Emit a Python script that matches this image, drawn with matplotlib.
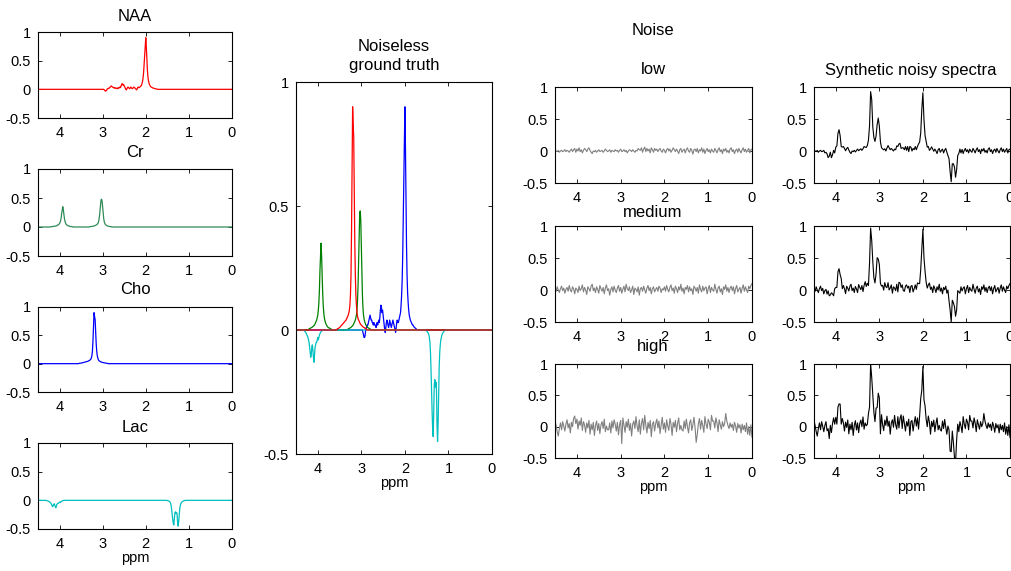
import numpy as np
import matplotlib
matplotlib.use("Agg")
import matplotlib.pyplot as plt

plt.rcParams['font.family'] = ['Liberation Sans', 'DejaVu Sans']
plt.rcParams['axes.unicode_minus'] = False

# ---------------- data ----------------
ppm_start, ppm_end = 4.5, 0.0
fine_step = 0.0125          # ground-truth sampling (ppm)
xtick_vals = [4, 3, 2, 1, 0]
ytick_vals = [-0.5, 0, 0.5, 1]
ytick_labels = ['-0.5', '0', '0.5', '1']

# metabolite segments: first ppm of segment + values at fine_step spacing (descending ppm)
naa_start = 2.975
naa_vals = [0.0, -0.01, -0.02, -0.03, -0.03, -0.02, 0.0, 0.01, 0.01, 0.02,
            0.02, 0.03, 0.04, 0.05, 0.06, 0.05, 0.04, 0.04, 0.03, 0.03,
            0.02, 0.03, 0.02, 0.02, 0.02, 0.01, 0.02, 0.03, 0.02, 0.03,
            0.04, 0.03, 0.05, 0.08, 0.10, 0.09, 0.07, 0.08, 0.06, 0.04,
            0.02, 0.00, -0.01, 0.01, 0.03, 0.04, 0.03, 0.02, 0.01, 0.02,
            0.04, 0.03, 0.02, 0.01, 0.02, 0.03, 0.04, 0.03, 0.02, 0.01,
            0.00, -0.01, 0.01, 0.03, 0.04, 0.03, 0.03, 0.04, 0.05, 0.06,
            0.07, 0.10, 0.14, 0.20, 0.30, 0.45, 0.62, 0.72, 0.90, 0.74,
            0.52, 0.34, 0.22, 0.15, 0.11, 0.08, 0.06, 0.05, 0.04, 0.035,
            0.03, 0.025, 0.02, 0.02, 0.015, 0.012, 0.01, 0.008, 0.006, 0.004]

cr_start1 = 4.2
cr_vals1 = [0.005, 0.006, 0.007, 0.008, 0.009, 0.010, 0.012, 0.014, 0.016, 0.018,
            0.020, 0.025, 0.030, 0.035, 0.040, 0.050, 0.060, 0.080, 0.110, 0.160,
            0.240, 0.300, 0.350, 0.300, 0.220, 0.150, 0.100, 0.070, 0.050, 0.040,
            0.030, 0.025, 0.020, 0.016, 0.013, 0.011, 0.009, 0.008, 0.007, 0.006, 0.005]
cr_start2 = 3.3
cr_vals2 = [0.005, 0.006, 0.007, 0.008, 0.009, 0.011, 0.013, 0.015, 0.018, 0.020,
            0.025, 0.030, 0.035, 0.040, 0.050, 0.060, 0.080, 0.120, 0.180, 0.280,
            0.400, 0.470, 0.480, 0.440, 0.340, 0.220, 0.140, 0.090, 0.060, 0.045,
            0.035, 0.028, 0.022, 0.018, 0.015, 0.012, 0.010, 0.008, 0.007, 0.006, 0.005]

cho_start = 3.55
cho_vals = [0.005, 0.006, 0.007, 0.008, 0.010, 0.012, 0.015, 0.018, 0.020, 0.022,
            0.025, 0.027, 0.030, 0.032, 0.035, 0.038, 0.040, 0.045, 0.050, 0.055,
            0.060, 0.070, 0.080, 0.100, 0.140, 0.220, 0.400, 0.660, 0.900, 0.830,
            0.780, 0.550, 0.350, 0.220, 0.140, 0.100, 0.070, 0.055, 0.045, 0.040,
            0.035, 0.030, 0.025, 0.022, 0.020, 0.017, 0.015, 0.013, 0.011, 0.010,
            0.008, 0.007, 0.006, 0.005]

lac_start1 = 4.3
lac_vals1 = [-0.005, -0.008, -0.010, -0.015, -0.020, -0.025, -0.030, -0.040, -0.050, -0.070,
             -0.090, -0.110, -0.100, -0.070, -0.060, -0.080, -0.110, -0.130, -0.100, -0.070,
             -0.060, -0.050, -0.050, -0.040, -0.030, -0.040, -0.030, -0.020, -0.015, -0.010,
             -0.007, -0.005]
lac_start2 = 1.5
lac_vals2 = [-0.005, -0.007, -0.010, -0.013, -0.020, -0.030, -0.050, -0.090, -0.160, -0.250,
             -0.330, -0.400, -0.430, -0.330, -0.220, -0.200, -0.230, -0.210, -0.240, -0.380,
             -0.450, -0.380, -0.260, -0.150, -0.090, -0.060, -0.040, -0.030, -0.020, -0.015,
             -0.010, -0.008, -0.005]

# noise realisations, sampled every 0.025 ppm from 4.5 to 0
noise_low = [0.02, 0.00, -0.01, 0.01, -0.02, 0.00, 0.01, -0.01, 0.00, 0.02,
             -0.01, 0.01, 0.00, -0.02, 0.01, 0.03, -0.01, 0.02, 0.04, -0.02,
             0.03, 0.00, 0.05, -0.01, 0.02, -0.03, 0.01, 0.04, 0.02, -0.01,
             0.03, 0.05, 0.01, -0.02, -0.04, 0.00, -0.01, 0.01, -0.02, 0.00,
             0.02, -0.01, 0.00, 0.01, -0.02, 0.00, 0.03, 0.01, -0.01, 0.00,
             0.02, -0.02, 0.01, 0.00, -0.01, 0.02, 0.00, 0.01, -0.02, 0.01,
             0.03, -0.01, 0.00, 0.02, -0.01, 0.01, -0.03, 0.00, 0.02, 0.01,
             -0.01, 0.02, 0.00, -0.02, 0.01, 0.00, 0.04, 0.02, 0.01, 0.05,
             -0.02, 0.03, 0.06, -0.01, 0.04, 0.00, 0.03, -0.03, 0.05, 0.02,
             -0.02, 0.04, 0.01, 0.03, -0.01, 0.02, 0.04, 0.00, -0.02, 0.03,
             0.01, -0.03, 0.02, 0.04, 0.00, 0.03, -0.02, 0.01, 0.05, 0.02,
             -0.01, 0.03, 0.00, -0.04, 0.02, 0.04, -0.02, 0.01, 0.03, -0.03,
             0.02, 0.05, 0.00, -0.02, 0.04, 0.01, -0.05, 0.02, 0.03, -0.01,
             0.04, -0.03, 0.02, 0.00, 0.05, -0.02, 0.03, -0.04, 0.01, 0.04,
             -0.01, 0.02, -0.03, 0.03, 0.00, -0.02, 0.04, 0.01, -0.03, 0.02,
             0.05, -0.01, 0.02, -0.04, 0.03, 0.00, 0.04, -0.02, 0.01, -0.03,
             0.03, 0.05, -0.01, 0.02, -0.04, 0.01, 0.03, -0.02, 0.04, 0.00,
             -0.03, 0.02, 0.05, -0.01, 0.03, -0.02, 0.01, 0.04, -0.03, 0.02,
             0.03]
noise_medium = [0.03, -0.02, 0.05, 0.00, -0.04, 0.02, 0.06, -0.01, 0.03, -0.05,
                0.01, 0.04, -0.02, 0.07, 0.00, -0.03, 0.05, 0.02, -0.06, 0.03,
                0.01, -0.04, 0.06, -0.01, 0.02, 0.08, -0.03, 0.04, 0.00, -0.07,
                0.05, 0.02, -0.02, 0.06, 0.09, -0.01, 0.03, -0.04, 0.05, 0.01,
                -0.05, 0.07, 0.02, -0.02, 0.04, -0.06, 0.03, 0.08, -0.01, 0.02,
                -0.08, 0.01, 0.05, -0.03, 0.06, 0.00, -0.04, 0.03, 0.07, -0.02,
                0.04, -0.05, 0.01, 0.06, -0.03, 0.09, 0.02, -0.01, 0.05, -0.04,
                0.00, 0.06, -0.07, 0.03, 0.01, -0.03, 0.05, -0.08, 0.02, 0.04,
                -0.02, 0.06, 0.00, -0.05, 0.03, 0.07, -0.01, 0.04, -0.06, 0.02,
                0.05, -0.03, 0.01, 0.04, -0.02, 0.06, 0.03, -0.04, 0.02, 0.00,
                0.05, -0.02, 0.07, 0.01, -0.03, 0.04, 0.08, -0.01, 0.03, -0.05,
                0.06, 0.02, -0.04, 0.05, 0.00, 0.09, -0.02, 0.03, -0.06, 0.04,
                0.01, 0.07, -0.03, 0.05, -0.01, 0.02, -0.07, 0.06, 0.03, -0.02,
                0.04, -0.05, 0.08, 0.01, -0.03, 0.06, -0.01, 0.03, 0.05, -0.06,
                0.02, 0.07, -0.04, 0.04, 0.00, -0.02, 0.09, 0.01, -0.05, 0.03,
                0.06, -0.03, 0.02, -0.07, 0.05, 0.01, 0.08, -0.02, 0.04, -0.04,
                0.03, 0.06, -0.01, 0.05, -0.06, 0.02, 0.07, -0.03, 0.01, 0.04,
                -0.05, 0.03, 0.08, -0.02, 0.05, 0.00, -0.04, 0.06, 0.02, 0.07,
                0.10]
noise_high = [0.10, 0.02, -0.08, -0.15, -0.03, 0.06, -0.05, 0.08, 0.01, -0.07,
              0.04, 0.11, -0.02, 0.05, -0.10, 0.07, 0.00, 0.13, 0.17, 0.05,
              0.12, -0.04, 0.09, 0.02, 0.14, -0.06, 0.08, 0.03, -0.09, 0.06,
              -0.02, 0.10, -0.12, 0.04, -0.05, 0.07, -0.14, 0.02, 0.09, -0.06,
              0.05, -0.11, 0.03, 0.08, -0.03, 0.12, -0.08, 0.01, -0.05, -0.05,
              0.06, -0.10, 0.09, -0.02, 0.11, 0.04, -0.07, 0.07, -0.13, 0.03,
              0.10, -0.27, 0.14, 0.02, -0.09, 0.08, -0.01, 0.12, -0.06, 0.05,
              -0.15, 0.04, 0.09, -0.03, 0.16, 0.01, -0.08, 0.11, -0.12, 0.06,
              0.13, -0.05, 0.18, 0.02, -0.10, 0.07, -0.03, 0.10, -0.16, 0.04,
              0.08, -0.07, 0.05, 0.12, -0.02, 0.09, -0.11, 0.03, 0.15, -0.04,
              0.06, -0.09, 0.11, 0.01, -0.06, 0.13, 0.04, -0.14, 0.07, -0.01,
              0.10, -0.08, 0.05, 0.14, -0.05, 0.02, -0.05, -0.07, 0.09, -0.03,
              0.12, 0.00, -0.10, 0.06, 0.11, -0.06, 0.03, 0.15, -0.02, -0.25,
              -0.12, 0.05, 0.13, -0.04, 0.10, 0.02, -0.09, 0.16, 0.04, -0.03,
              0.12, 0.07, -0.05, 0.18, 0.09, 0.09, -0.02, 0.14, 0.06, -0.08,
              0.11, 0.03, -0.04, 0.08, 0.00, 0.05, 0.21, 0.09, 0.02, -0.03,
              0.06, -0.01, 0.04, -0.06, 0.07, 0.01, -0.09, 0.05, -0.02, 0.03,
              -0.10, 0.04, -0.05, 0.02, -0.08, 0.06, -0.12, 0.00, -0.14, 0.03,
              -0.17]

noise_titles = ['low', 'medium', 'high']

# ---------------- assemble spectra ----------------
n_fine = int(round((ppm_start - ppm_end) / fine_step)) + 1
ppm_fine = np.linspace(ppm_start, ppm_end, n_fine)


def spectrum(*segments):
    arr = np.zeros(n_fine)
    for start, vals in segments:
        j0 = int(round((ppm_start - start) / fine_step))
        arr[j0:j0 + len(vals)] += np.asarray(vals)
    return arr


naa = spectrum((naa_start, naa_vals))
cr = spectrum((cr_start1, cr_vals1), (cr_start2, cr_vals2))
cho = spectrum((cho_start, cho_vals))
lac = spectrum((lac_start1, lac_vals1), (lac_start2, lac_vals2))
truth = (naa + cr + cho + lac)[::2]
noises = [np.asarray(noise_low), np.asarray(noise_medium), np.asarray(noise_high)]
n_c = min(len(truth), *[len(n) for n in noises])
ppm_coarse = ppm_fine[::2][:n_c]
noisy = [truth[:n_c] + nz[:n_c] for nz in noises]

# ---------------- figure ----------------
W, H = 1011, 571
fig = plt.figure(figsize=(W / 100, H / 100), dpi=100)
fig.patch.set_facecolor('white')


def box(l, t, r, b):
    ax = fig.add_axes([l / W, 1 - b / H, (r - l) / W, (b - t) / H])
    ax.set_xlim(ppm_start, ppm_end)
    ax.set_ylim(-0.5, 1)
    ax.set_xticks(xtick_vals)
    ax.set_xticklabels([str(v) for v in xtick_vals])
    ax.set_yticks(ytick_vals)
    ax.set_yticklabels(ytick_labels)
    ax.tick_params(direction='in', top=True, right=True, length=3, width=0.6,
                   labelsize=10.5, pad=5)
    ax.tick_params(axis='x', pad=6)
    for s in ax.spines.values():
        s.set_linewidth(0.8)
    return ax


def ftext(x, y, s, size=12):
    fig.text(x / W, 1 - y / H, s, ha='center', va='baseline', fontsize=size)


# column 1: individual metabolites
col1 = [(naa, '#ff0000', 'NAA', 32, 118, 21),
        (cr, '#2e8b57', 'Cr', 169, 256, 157),
        (cho, '#0000ff', 'Cho', 307, 392, 294),
        (lac, '#00bfbf', 'Lac', 443, 529, 432)]
for data, col, name, t, b, ty in col1:
    ax = box(38, t, 232, b)
    ax.plot(ppm_fine, data, color=col, lw=0.9)
    ftext(135, ty, name)
ftext(135, 562, 'ppm', 10.5)

# column 2: ground truth overlay
ax = box(296, 82, 492, 454)
ax.plot(ppm_fine, naa, color='#0000ff', lw=0.9)
ax.plot(ppm_fine, cr, color='#008000', lw=0.9)
ax.plot(ppm_fine, lac, color='#00bfbf', lw=0.9)
ax.plot(ppm_fine, cho, color='#ff0000', lw=0.9)
ftext(394, 51, 'Noiseless')
ftext(394, 70, 'ground truth')
ftext(394, 487, 'ppm', 10.5)

# column 3: noise, column 4: noisy spectra
rows = [(87, 183, 74), (226, 322, 217), (364, 458, 351)]
ftext(653, 35, 'Noise')
for k, (t, b, ty) in enumerate(rows):
    ax = box(555, t, 752, b)
    ax.plot(ppm_coarse, noises[k][:n_c], color='#808080', lw=0.8)
    ftext(653, ty, noise_titles[k])
    ax2 = box(814, t, 1010, b)
    ax2.plot(ppm_coarse, noisy[k], color='black', lw=0.8)
ftext(911, 75, 'Synthetic noisy spectra')
ftext(653, 491, 'ppm', 10.5)
ftext(911, 491, 'ppm', 10.5)

fig.savefig('out.png', dpi=100, facecolor='white')
